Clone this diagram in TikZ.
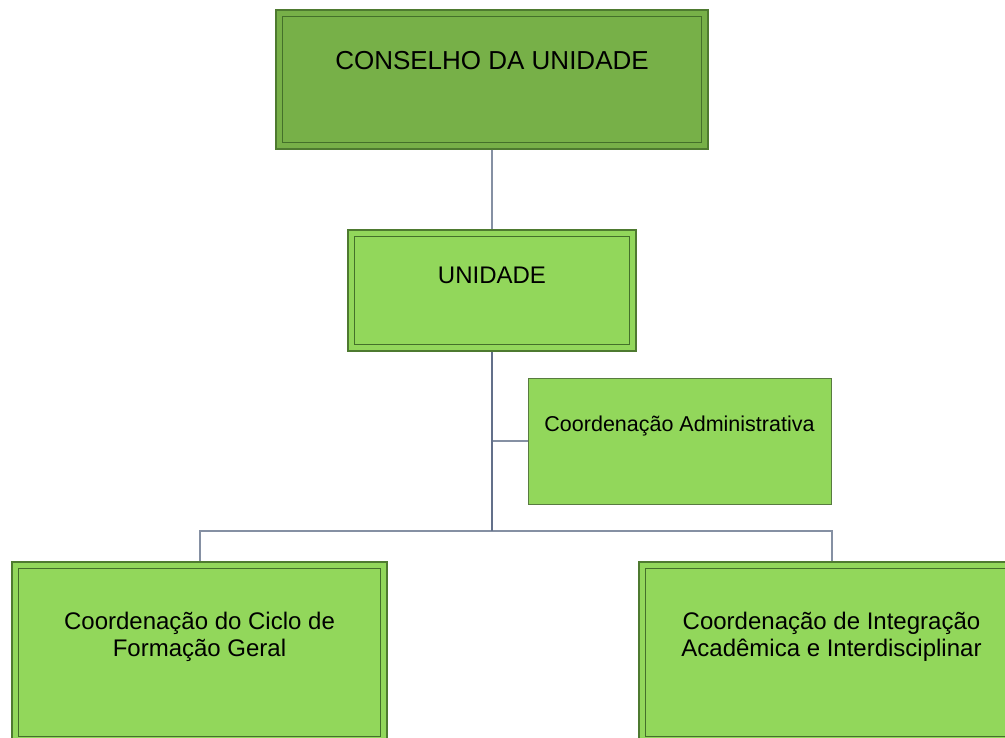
\documentclass[tikz,border=0pt]{standalone}
\usepackage{fontspec}
\setmainfont{Liberation Sans}
\usetikzlibrary{calc}
\definecolor{darkfill}{HTML}{77B048}
\definecolor{lightfill}{HTML}{92D75B}
\definecolor{boxline}{HTML}{4E7A30}
\definecolor{innerline}{HTML}{44702A}
\definecolor{conncol}{HTML}{8590A3}
\definecolor{trunkcol}{HTML}{63708A}
\tikzset{
  box/.style={rectangle, draw=boxline, line width=1.1pt, inner sep=0pt, fill=lightfill},
  dbox/.style={box, path picture={\draw[innerline, line width=1.4pt]
      ([shift={(6.5pt,-6.5pt)}]path picture bounding box.north west) rectangle
      ([shift={(-6.5pt,6.5pt)}]path picture bounding box.south east);}},
  conn/.style={draw=conncol, line width=2pt},
  trunk/.style={draw=trunkcol, line width=2.2pt},
  lbl/.style={anchor=base, align=center, text=black, inner sep=0pt}
}
\begin{document}
\begin{tikzpicture}[x=1pt,y=-1pt]
\useasboundingbox (0,0) rectangle (1005,738);
\clip (0,0) rectangle (1005,738);
% boxes
\node[dbox, fill=darkfill, minimum width=432pt, minimum height=139pt] (conselho) at (492,79.5) {};
\node[dbox, minimum width=288pt, minimum height=121pt] (unidade) at (492,290.5) {};
\node[box, draw=boxline!80!gray, line width=1pt, minimum width=303pt, minimum height=126pt] (admin) at (679.5,441) {};
\node[dbox, minimum width=375pt, minimum height=181pt] (ciclo) at (199.5,652.5) {};
\node[dbox, minimum width=385pt, minimum height=181pt] (integ) at (831.5,652.5) {};
% connectors
\coordinate (bus) at (492,531);
\draw[conn] (conselho.south) -- (unidade.north);
\draw[conn] (bus) -| (ciclo.north);
\draw[conn] (bus) -| (integ.north);
\draw[conn] (unidade.south) |- (admin.west);
\draw[trunk] (unidade.south) -- (bus);
% texts
\node[lbl, font=\fontsize{26}{30}\selectfont] (t1) at ($(conselho.north)+(0,60)$) {CONSELHO DA UNIDADE};
\node[lbl, font=\fontsize{24}{28}\selectfont] (t2) at ($(unidade.north)+(0,54)$) {UNIDADE};
\node[lbl, font=\fontsize{21.5}{25}\selectfont] (t3) at ($(admin.north)+(0,54)$) {Coordenação Administrativa};
\node[lbl, font=\fontsize{24}{27.5}\selectfont] (t4) at ($(ciclo.north)+(0,95.5)$) {Coordenação do Ciclo de\\Formação Geral};
\node[lbl, font=\fontsize{24}{27.5}\selectfont] (t5) at ($(integ.north)+(0,95.5)$) {Coordenação de Integração\\Acadêmica e Interdisciplinar};
\end{tikzpicture}
\end{document}
